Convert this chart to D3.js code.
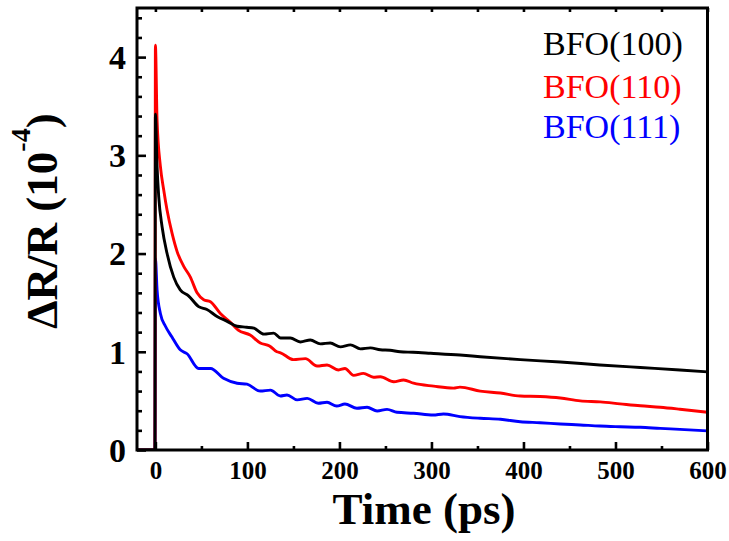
<!DOCTYPE html>
<html>
<head>
<meta charset="utf-8">
<script src="https://cdn.jsdelivr.net/npm/d3@7"></script>
<style>
  html, body { margin: 0; padding: 0; background: #fff; }
  svg { display: block; }
  text { font-family: "Liberation Serif", "Times New Roman", Times, serif; }
</style>
</head>
<body>
<svg id="chart" width="729" height="541"></svg>
<script>
// ---------- data ----------
const seriesNames = ["BFO(100)", "BFO(110)", "BFO(111)"];
const seriesColors = ["#000000", "#ff0000", "#0000ff"];

const t100 = [-20, -0.5, 0, 1.8, 3.6, 7.3, 12.7, 19.9, 27, 36, 47, 56, 67, 78, 88.8, 99, 107, 118, 128.5, 136, 146.7, 157.5, 168.4, 179.3, 190, 201, 212, 222.7, 233.6, 244.4, 255, 266, 280, 299, 331, 353, 396.5, 440, 483, 527, 570, 600];
const v100 = [0, 0, 3.42, 2.89, 2.58, 2.27, 2.0, 1.76, 1.63, 1.57, 1.46, 1.43, 1.36, 1.31, 1.26, 1.25, 1.24, 1.18, 1.19, 1.14, 1.14, 1.10, 1.12, 1.08, 1.09, 1.05, 1.07, 1.03, 1.04, 1.02, 1.015, 1.00, 0.995, 0.985, 0.967, 0.95, 0.92, 0.896, 0.866, 0.84, 0.815, 0.795];

const t110 = [-20, -0.5, 0, 1.8, 5.4, 9, 12.7, 18, 23.6, 30.8, 38, 45.3, 52.5, 59.8, 70.6, 81.5, 90, 103, 114, 124, 132, 136, 150, 163, 175.7, 186.5, 199, 206, 215.4, 226, 237, 244.4, 259, 269.7, 280.6, 302.4, 324, 331, 353, 374.8, 396.5, 418, 440, 461.7, 483.4, 505, 527, 548.6, 570, 600];
const v110 = [0, 0, 4.12, 3.36, 2.89, 2.65, 2.44, 2.21, 2.02, 1.87, 1.76, 1.60, 1.53, 1.51, 1.39, 1.30, 1.22, 1.17, 1.09, 1.06, 1.00, 0.99, 0.92, 0.93, 0.855, 0.866, 0.815, 0.83, 0.76, 0.78, 0.74, 0.746, 0.695, 0.713, 0.68, 0.65, 0.63, 0.64, 0.60, 0.58, 0.55, 0.545, 0.53, 0.50, 0.49, 0.47, 0.45, 0.435, 0.415, 0.384];

const t111 = [-20, -0.5, 0, 1.8, 5.4, 10.9, 18, 27, 34.4, 47, 60, 74, 88.8, 99.6, 114, 125, 135.8, 143, 154, 165, 177, 186.5, 197, 206, 219, 230, 241, 251.7, 262.6, 280.6, 302, 313, 331, 353, 375, 396.5, 418, 440, 461.7, 483, 505, 527, 548.6, 570, 600];
const v111 = [0, 0, 1.95, 1.63, 1.39, 1.26, 1.15, 1.02, 0.98, 0.83, 0.83, 0.73, 0.68, 0.67, 0.60, 0.61, 0.55, 0.56, 0.51, 0.526, 0.476, 0.486, 0.448, 0.468, 0.425, 0.435, 0.397, 0.414, 0.384, 0.374, 0.356, 0.367, 0.34, 0.323, 0.313, 0.288, 0.278, 0.265, 0.255, 0.244, 0.237, 0.231, 0.22, 0.21, 0.195];

const xMajorTicks = [0, 100, 200, 300, 400, 500, 600];
const xMinorTicks = [50, 150, 250, 350, 450, 550];
const yMajorTicks = [0, 1, 2, 3, 4];
const yMinorTicks = [0.2, 0.4, 0.6, 0.8, 1.2, 1.4, 1.6, 1.8, 2.2, 2.4, 2.6, 2.8, 3.2, 3.4, 3.6, 3.8, 4.2, 4.4];

const timeArrays = [t100, t110, t111];
const valueArrays = [v100, v110, v111];

// ---------- layout ----------
const svg = d3.select("#chart");
const L = 137, R = 707.5, T = 8, B = 450;
const x = d3.scaleLinear().domain([-20, 600]).range([L, R]);
const y = d3.scaleLinear().domain([0, 4.5]).range([B, T]);
const FONT = '"Liberation Serif", "Times New Roman", Times, serif';

svg.append("rect").attr("width", 729).attr("height", 541).attr("fill", "#fff");

svg.append("defs").append("clipPath").attr("id", "clip")
  .append("rect").attr("x", L).attr("y", T).attr("width", R - L).attr("height", B - T);

// ---------- lines ----------
const line = d3.line().x(d => x(d[0])).y(d => y(d[1])).curve(d3.curveMonotoneX);
const drawOrder = [2, 1, 0];
drawOrder.forEach(i => {
  const pts = timeArrays[i].map((t, k) => [t, valueArrays[i][k]]);
  svg.append("path")
    .datum(pts)
    .attr("clip-path", "url(#clip)")
    .attr("fill", "none")
    .attr("stroke", seriesColors[i])
    .attr("stroke-width", 2.9)
    .attr("stroke-linejoin", "round")
    .attr("d", line);
});

// ---------- axes ----------
function styleAxis(g) {
  g.select(".domain").remove();
  g.selectAll(".tick line").attr("stroke", "#000").attr("stroke-width", 2.6);
  g.selectAll("text").attr("fill", "#000").attr("font-family", FONT).attr("font-weight", "bold");
}

// bottom
const gxMinor = svg.append("g").attr("transform", `translate(0,${B})`)
  .call(d3.axisBottom(x).tickValues(xMinorTicks).tickSize(-4).tickFormat(""));
styleAxis(gxMinor);
const gx = svg.append("g").attr("transform", `translate(0,${B})`)
  .call(d3.axisBottom(x).tickValues(xMajorTicks).tickSize(-8).tickPadding(11).tickFormat(d3.format("d")));
styleAxis(gx);
gx.selectAll("text").attr("font-size", 25);

// top
const gtop = svg.append("g").attr("transform", `translate(0,${T})`)
  .call(d3.axisTop(x).tickValues(xMajorTicks.concat(xMinorTicks)).tickSize(-4).tickFormat(""));
styleAxis(gtop);

// left
const gyMinor = svg.append("g").attr("transform", `translate(${L},0)`)
  .call(d3.axisLeft(y).tickValues(yMinorTicks).tickSize(-5).tickFormat(""));
styleAxis(gyMinor);
const gy = svg.append("g").attr("transform", `translate(${L},0)`)
  .call(d3.axisLeft(y).tickValues(yMajorTicks).tickSize(-9).tickPadding(11).tickFormat(d3.format("d")));
styleAxis(gy);
gy.selectAll("text").attr("font-size", 34).attr("dy", "0.33em");

// frame
svg.append("rect")
  .attr("x", L).attr("y", T).attr("width", R - L).attr("height", B - T)
  .attr("fill", "none").attr("stroke", "#000").attr("stroke-width", 3);

// ---------- axis titles ----------
svg.append("text")
  .attr("x", 424).attr("y", 524)
  .attr("text-anchor", "middle")
  .attr("font-family", FONT).attr("font-weight", "bold").attr("font-size", 45)
  .text("Time (ps)");

const yl = svg.append("text")
  .attr("transform", "translate(57,221) rotate(-90)")
  .attr("text-anchor", "middle")
  .attr("font-family", FONT).attr("font-weight", "bold").attr("font-size", 45);
yl.append("tspan").text("\u0394R/R (10");
yl.append("tspan").attr("dy", -27).attr("font-size", 28).text("-4");
yl.append("tspan").attr("dy", 27).text(")");

// ---------- legend ----------
const legendY = [55, 97.5, 138];
seriesNames.forEach((name, i) => {
  svg.append("text")
    .attr("x", 543).attr("y", legendY[i])
    .attr("font-family", FONT).attr("font-size", 34)
    .attr("fill", seriesColors[i])
    .text(name);
});
</script>
</body>
</html>
